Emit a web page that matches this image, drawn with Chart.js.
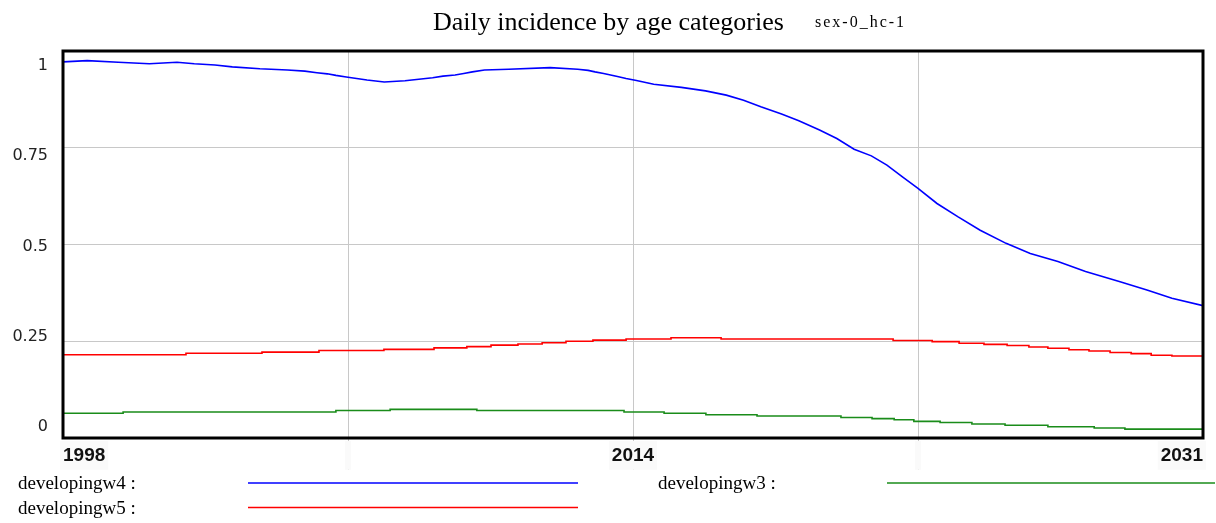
<!DOCTYPE html>
<html>
<head>
<meta charset="utf-8">
<script src="https://cdn.jsdelivr.net/npm/chart.js@4.4.1/dist/chart.umd.min.js"></script>
<style>
  html, body { margin: 0; padding: 0; background: #fff; }
  #wrap { width: 1216px; height: 523px; }
</style>
</head>
<body>
<div id="wrap"><canvas id="chart1"></canvas></div>
<script>
const titleText = "Daily incidence by age categories";
const subtitleText = "sex-0_hc-1";
const xTickLabels = ["1998", "", "2014", "", "2031"];
const yTickLabels = ["0", "0.25", "0.5", "0.75", "1"];

// developingw4 (blue)
const w4Years = [1998.0, 1998.7, 1999.6, 2000.5, 2001.3, 2001.8, 2002.4, 2002.9, 2003.7, 2004.5,
  2005.0, 2005.35, 2005.65, 2005.9, 2006.2, 2006.5, 2006.8, 2007.3, 2007.9, 2008.3,
  2008.7, 2009.0, 2009.35, 2009.6, 2009.85, 2010.2, 2010.9, 2012.1, 2012.9, 2013.2,
  2013.4, 2013.65, 2013.85, 2014.05, 2014.3, 2014.6, 2015.1, 2015.9, 2016.6, 2017.2,
  2017.7, 2018.2, 2018.8, 2019.3, 2019.9, 2020.4, 2020.9, 2021.4, 2021.85, 2022.3,
  2022.75, 2023.3, 2023.9, 2024.55, 2025.3, 2026.0, 2026.8, 2027.6, 2028.6, 2029.4,
  2030.1, 2031.0];
const w4Values = [0.972, 0.975, 0.971, 0.967, 0.971, 0.967, 0.964, 0.959, 0.954, 0.951,
  0.948, 0.944, 0.941, 0.937, 0.933, 0.929, 0.925, 0.920, 0.923, 0.927,
  0.931, 0.935, 0.938, 0.942, 0.946, 0.951, 0.953, 0.957, 0.953, 0.950,
  0.946, 0.942, 0.938, 0.934, 0.929, 0.924, 0.914, 0.906, 0.897, 0.886,
  0.873, 0.856, 0.837, 0.820, 0.796, 0.774, 0.746, 0.729, 0.705, 0.675,
  0.645, 0.606, 0.572, 0.537, 0.503, 0.477, 0.456, 0.430, 0.404, 0.382,
  0.361, 0.342];

// developingw5 (red), step starts
const w5Years = [1998.0, 2001.56, 2003.76, 2005.41, 2007.29, 2008.74, 2009.69, 2010.39, 2011.17, 2011.87,
  2012.56, 2013.34, 2014.3, 2015.6, 2017.05, 2022.03, 2023.16, 2023.94, 2024.66, 2025.33,
  2025.96, 2026.51, 2027.12, 2027.7, 2028.31, 2028.92, 2029.5, 2030.1, 2030.68, 2031.0];
const w5Values = [0.212, 0.215, 0.219, 0.222, 0.226, 0.229, 0.233, 0.236, 0.240, 0.243,
  0.246, 0.250, 0.253, 0.256, 0.259, 0.256, 0.252, 0.249, 0.245, 0.242,
  0.239, 0.235, 0.232, 0.228, 0.225, 0.221, 0.218, 0.214, 0.212, 0.212];

// developingw3 (green), step starts
const w3Years = [1998.0, 1999.74, 2005.9, 2007.47, 2009.98, 2014.24, 2015.4, 2016.61, 2018.09, 2020.52,
  2021.42, 2022.06, 2022.63, 2023.39, 2024.31, 2025.27, 2026.51, 2027.85, 2028.74, 2030.07, 2031.0];
const w3Values = [0.059, 0.064, 0.067, 0.071, 0.074, 0.071, 0.067, 0.064, 0.060, 0.057,
  0.053, 0.050, 0.047, 0.043, 0.040, 0.036, 0.033, 0.029, 0.026, 0.023, 0.023];

const toPoints = (xs, ys) => xs.map((x, i) => ({ x: x, y: ys[i] }));

const xMin = 1998, xMax = 2031;

// legend slots, Vensim style
const legendSlots = [
  { text: 18, line1: 248, line2: 578, row: 0 },
  { text: 18, line1: 248, line2: 578, row: 1 },
  { text: 658, line1: 887, line2: 1215, row: 0 },
];

const frameAndText = {
  id: "frameAndText",
  afterDraw(chart) {
    const { ctx, chartArea: a } = chart;
    ctx.save();
    ctx.strokeStyle = "#000";
    ctx.lineWidth = 3;
    ctx.strokeRect(a.left, a.top, a.right - a.left, a.bottom - a.top);

    ctx.fillStyle = "#000";
    ctx.textBaseline = "alphabetic";
    ctx.textAlign = "left";
    ctx.font = '26px "Liberation Serif"';
    ctx.fillText(titleText, 433, 30);
    ctx.font = '16px "Liberation Serif"';
    ctx.letterSpacing = "2px";
    ctx.fillText(subtitleText, 815, 27);
    ctx.letterSpacing = "0px";

    ctx.font = '19px "Liberation Serif"';
    chart.data.datasets.forEach((ds, i) => {
      const s = legendSlots[i];
      const base = a.bottom + 51 + s.row * 24.5;
      ctx.fillStyle = "#000";
      ctx.fillText(ds.label + " :", s.text, base);
      ctx.strokeStyle = ds.borderColor;
      ctx.lineWidth = 1.5;
      ctx.beginPath();
      ctx.moveTo(s.line1, base - 6);
      ctx.lineTo(s.line2, base - 6);
      ctx.stroke();
    });
    ctx.restore();
  },
};

const ctx = document.getElementById("chart1");
const chart = new Chart(ctx, {
  type: "line",
  data: {
    datasets: [
      {
        label: "developingw4",
        data: toPoints(w4Years, w4Values),
        borderColor: "#0000ff",
        borderWidth: 1.6,
        pointRadius: 0,
        tension: 0,
      },
      {
        label: "developingw5",
        data: toPoints(w5Years, w5Values),
        borderColor: "#ff0000",
        borderWidth: 1.6,
        pointRadius: 0,
        stepped: "after",
      },
      {
        label: "developingw3",
        data: toPoints(w3Years, w3Values),
        borderColor: "#1a8c1a",
        borderWidth: 1.6,
        pointRadius: 0,
        stepped: "after",
      },
    ],
  },
  options: {
    responsive: true,
    maintainAspectRatio: false,
    animation: false,
    layout: { padding: { top: 51, right: 13, left: 0, bottom: 0 } },
    plugins: {
      legend: { display: false },
      title: { display: false },
      tooltip: { enabled: false },
    },
    scales: {
      x: {
        type: "linear",
        min: xMin,
        max: xMax,
        afterBuildTicks: (axis) => {
          axis.ticks = [0, 1, 2, 3, 4].map((i) => ({ value: xMin + (i * (xMax - xMin)) / 4 }));
        },
        afterFit: (axis) => { axis.height = 85; },
        border: { display: false },
        grid: {
          color: (c) => (c.index === 0 || c.index === 4 ? "rgba(0,0,0,0)" : "#c8c8c8"),
          tickLength: 32,
        },
        ticks: {
          callback: (v, i) => xTickLabels[i],
          autoSkip: false,
          maxRotation: 0,
          align: "inner",
          padding: -26,
          color: "#111",
          font: { family: "Liberation Sans", size: 19, weight: "bold" },
          showLabelBackdrop: true,
          backdropColor: "#fafafa",
          backdropPadding: 3,
        },
      },
      y: {
        min: 0,
        max: 1,
        afterBuildTicks: (axis) => {
          axis.ticks = [0, 0.25, 0.5, 0.75, 1].map((v) => ({ value: v }));
        },
        afterFit: (axis) => { axis.width = 0; },
        border: { display: false },
        grid: {
          color: (c) => (c.index === 0 || c.index === 4 ? "rgba(0,0,0,0)" : "#c8c8c8"),
          drawTicks: false,
        },
        ticks: { display: false },
      },
      yLabels: {
        position: "left",
        min: -0.031,
        max: 1.042,
        afterBuildTicks: (axis) => {
          axis.ticks = [0, 0.25, 0.5, 0.75, 1].map((v) => ({ value: v }));
        },
        afterFit: (axis) => { axis.width = 63; },
        border: { display: false },
        grid: { display: false, drawTicks: false },
        ticks: {
          callback: (v, i) => yTickLabels[i],
          padding: 15,
          color: "#222",
          font: { family: "DejaVu Sans", size: 16 },
        },
      },
    },
  },
  plugins: [frameAndText],
});
</script>
</body>
</html>
